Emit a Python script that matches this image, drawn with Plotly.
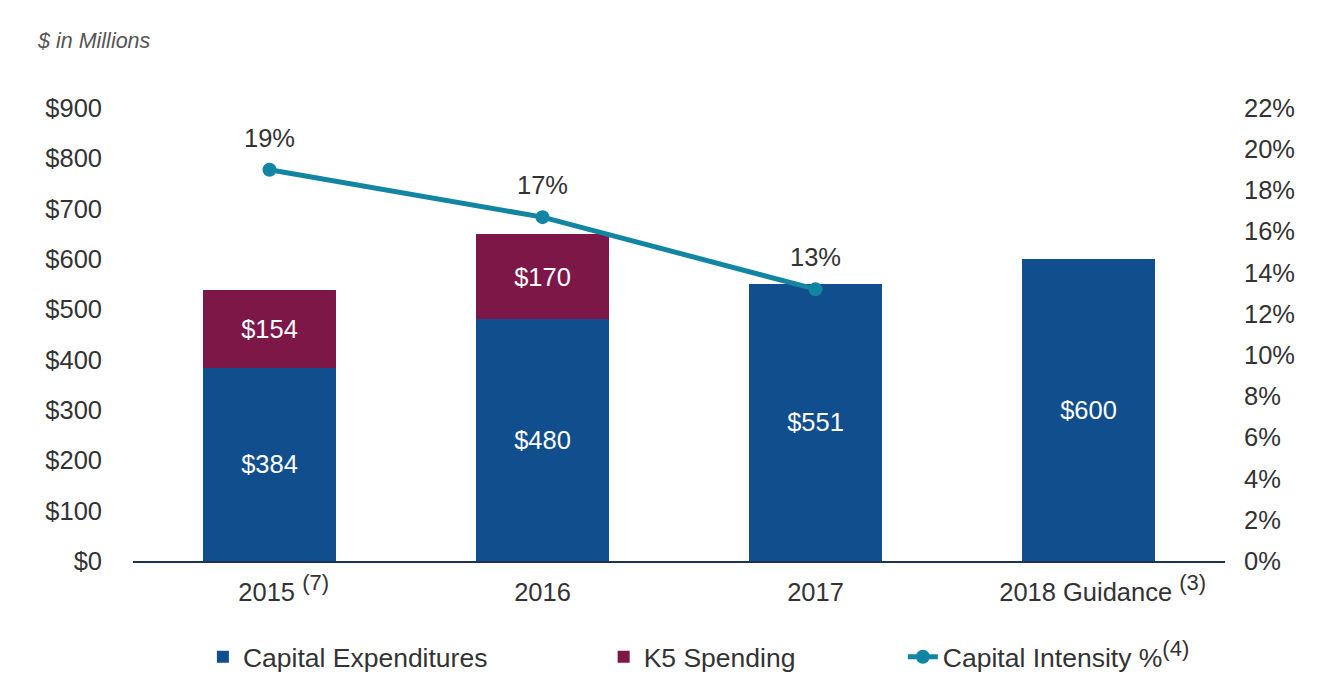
import plotly.graph_objects as go

sup = '<sup><span style="font-size:22px">{}</span></sup>'
pad = '&nbsp;' * 4
years = [pad + '2015 ' + sup.format('(7)'), '2016', '2017',
         pad + '2018 Guidance ' + sup.format('(3)')]
capex = [384, 480, 551, 600]
k5 = [154, 170, None, None]
intensity = [19.0, 16.7, 13.2, None]

blue = '#114E8E'
plum = '#7D1747'
teal = '#1285A2'
txt = '#333333'
font_family = 'Liberation Sans, Arial, sans-serif'
fs = 25.5

fig = go.Figure()

fig.add_trace(go.Bar(
    x=years, y=capex, name='Capital Expenditures',
    marker=dict(color=blue, line=dict(width=0)),
    texttemplate='$%{y:.0f}', textposition='inside', insidetextanchor='middle',
    textfont=dict(color='white', size=fs), textangle=0,
    legend='legend'
))
fig.add_trace(go.Bar(
    x=years, y=k5, name='K5 Spending',
    marker=dict(color=plum, line=dict(width=0)),
    texttemplate='$%{y:.0f}', textposition='inside', insidetextanchor='middle',
    textfont=dict(color='white', size=fs), textangle=0,
    legend='legend2'
))
fig.add_trace(go.Scatter(
    x=years, y=intensity, name='Capital Intensity %' + sup.format('(4)'),
    mode='lines+markers', yaxis='y2',
    line=dict(color=teal, width=5), marker=dict(color=teal, size=14),
    legend='legend3', cliponaxis=False
))
# percentage labels, offset a bit higher above the points
fig.add_trace(go.Scatter(
    x=years, y=intensity, mode='markers+text', yaxis='y2',
    marker=dict(size=25, opacity=0), showlegend=False, hoverinfo='skip',
    texttemplate='%{y:.0f}%', textposition='top center',
    textfont=dict(color=txt, size=fs), cliponaxis=False
))

legend_base = dict(orientation='h', yanchor='middle', y=-0.212, xanchor='left',
                   font=dict(size=26.5, color=txt, family=font_family),
                   bgcolor='rgba(0,0,0,0)', itemwidth=30)

# page body adds an 8px offset, so figure is sized/margined to compensate
fig.update_layout(
    width=1327, height=682, showlegend=True,
    paper_bgcolor='white', plot_bgcolor='white',
    font=dict(family=font_family, color=txt, size=fs),
    barmode='stack', bargap=0.51,
    margin=dict(l=125, r=110, t=100, b=129, autoexpand=False),
    xaxis=dict(showline=True, linecolor='#1B3355', linewidth=2, showgrid=False,
               ticks='', tickfont=dict(size=fs, color=txt), ticklabelstandoff=7),
    yaxis=dict(range=[0, 900], dtick=100, tickprefix='$', showgrid=False, zeroline=False,
               tickfont=dict(size=fs, color=txt), ticklabelstandoff=30),
    yaxis2=dict(range=[0, 22], dtick=2, ticksuffix='%', overlaying='y', side='right',
                showgrid=False, zeroline=False, tickfont=dict(size=fs, color=txt),
                ticklabelstandoff=18),
    legend=dict(legend_base, x=0.064),
    legend2=dict(legend_base, x=0.431),
    legend3=dict(legend_base, x=0.705),
    annotations=[dict(text='<i>$ in Millions</i>', x=(27 - 125) / 1092, y=(553 - 33) / 453,
                      xref='paper', yref='paper', xanchor='left', yanchor='middle',
                      showarrow=False, font=dict(size=21.5, color='#555555'))],
)

fig.write_html('out.html')
